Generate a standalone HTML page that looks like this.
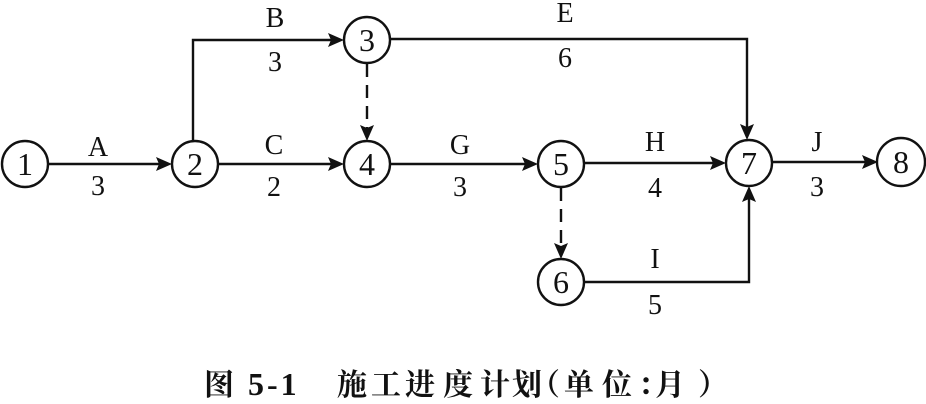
<!DOCTYPE html>
<html>
<head>
<meta charset="utf-8">
<style>
html,body{margin:0;padding:0;background:#fff;}
svg{display:block;}
.lab{font-family:"Liberation Serif",serif;font-size:28px;fill:#111;text-anchor:middle;}
.num{font-family:"Liberation Serif",serif;font-size:32px;fill:#111;text-anchor:middle;}
.cj{font-family:"Liberation Serif","Noto Serif CJK SC","Noto Sans CJK SC",serif;font-weight:bold;font-size:30px;fill:#111;}
</style>
</head>
<body>
<svg width="926" height="404" viewBox="0 0 926 404" xmlns="http://www.w3.org/2000/svg">
<g stroke="#111" stroke-width="2.4" fill="none">
  <line x1="48" y1="164" x2="160" y2="164"/>
  <polyline points="193,141 193,40 332,40"/>
  <line x1="218" y1="164" x2="332" y2="164"/>
  <line x1="390" y1="164" x2="526" y2="164"/>
  <polyline points="390,39 747,39 747,128"/>
  <line x1="584" y1="163" x2="714" y2="163"/>
  <line x1="773" y1="162" x2="866" y2="162"/>
  <polyline points="585,282 749,282 749,199"/>
  <line x1="367" y1="64" x2="367" y2="128" stroke-dasharray="13,8"/>
  <line x1="561" y1="188" x2="561" y2="247" stroke-dasharray="13,8"/>
  <circle cx="25" cy="164" r="23"/>
  <circle cx="195" cy="164" r="23"/>
  <circle cx="367" cy="40" r="23"/>
  <circle cx="367" cy="164" r="23"/>
  <circle cx="561" cy="164" r="23"/>
  <circle cx="561" cy="282" r="23"/>
  <circle cx="749" cy="163" r="23"/>
  <circle cx="901" cy="162" r="24"/>
</g>
<g fill="#111">
  <polygon points="172,164 156,157 159,164 156,171"/>
  <polygon points="344,40 328,33 331,40 328,47"/>
  <polygon points="344,164 328,157 331,164 328,171"/>
  <polygon points="538,164 522,157 525,164 522,171"/>
  <polygon points="726,163 710,156 713,163 710,170"/>
  <polygon points="878,162 862,155 865,162 862,169"/>
  <polygon points="367,141 360,125 367,128 374,125"/>
  <polygon points="747,140 740,124 747,127 754,124"/>
  <polygon points="561,259 554,243 561,246 568,243"/>
  <polygon points="749,186 742,202 749,199 756,202"/>
</g>
<text class="num" x="25" y="175">1</text>
<text class="num" x="195" y="175">2</text>
<text class="num" x="367" y="51">3</text>
<text class="num" x="367" y="175">4</text>
<text class="num" x="561" y="175">5</text>
<text class="num" x="561" y="293">6</text>
<text class="num" x="749" y="174">7</text>
<text class="num" x="901" y="173">8</text>
<text class="lab" x="98" y="156">A</text>
<text class="lab" x="98" y="195">3</text>
<text class="lab" x="275" y="27">B</text>
<text class="lab" x="275" y="71">3</text>
<text class="lab" x="274" y="154">C</text>
<text class="lab" x="274" y="196">2</text>
<text class="lab" x="460" y="154">G</text>
<text class="lab" x="460" y="196">3</text>
<text class="lab" x="565" y="22">E</text>
<text class="lab" x="565" y="67">6</text>
<text class="lab" x="655" y="151">H</text>
<text class="lab" x="655" y="197">4</text>
<text class="lab" x="817" y="151">J</text>
<text class="lab" x="817" y="196">3</text>
<text class="lab" x="655" y="268">I</text>
<text class="lab" x="655" y="314">5</text>
<text class="cj" x="204" y="395">图</text>
<text x="248" y="395" style="font-family:'Liberation Serif',serif;font-weight:bold;font-size:32px;fill:#111;letter-spacing:3px;">5-1</text>
<text class="cj" x="337" y="395">施</text>
<text class="cj" x="371" y="395">工</text>
<text class="cj" x="405" y="395">进</text>
<text class="cj" x="443" y="395">度</text>
<text class="cj" x="480" y="395">计</text>
<text class="cj" x="512" y="395">划</text>
<text class="cj" x="530" y="395">（</text>
<text class="cj" x="564" y="395">单</text>
<text class="cj" x="602" y="395">位</text>
<text class="cj" x="638" y="395">：</text>
<text class="cj" x="655" y="395">月</text>
<text class="cj" x="698" y="395">）</text>
</svg>
</body>
</html>
